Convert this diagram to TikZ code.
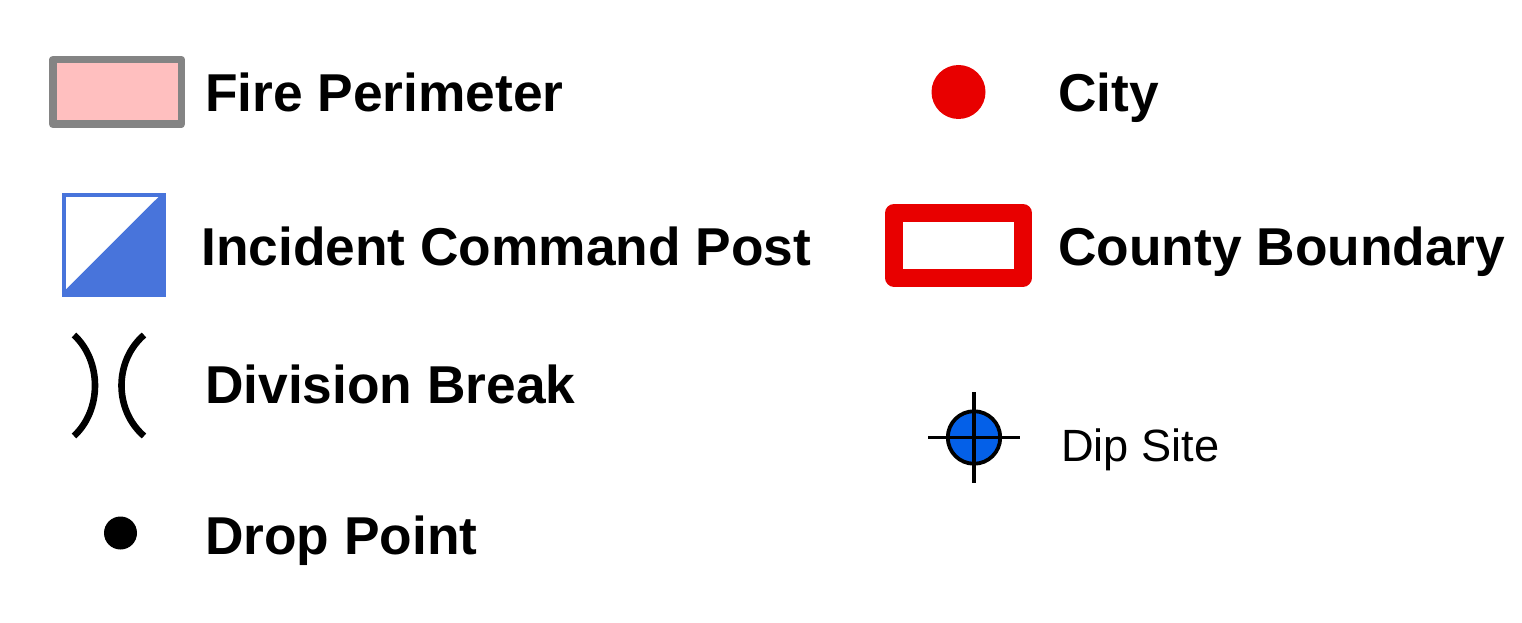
\documentclass[tikz,border=0pt]{standalone}
\usepackage{fontspec}
\setmainfont{Liberation Sans}
\definecolor{firefill}{HTML}{FFBFBF}
\definecolor{firegray}{HTML}{848484}
\definecolor{icp}{HTML}{4874DB}
\definecolor{cityred}{HTML}{E80000}
\definecolor{dip}{HTML}{0460E8}
\tikzset{x=1pt,y=-1pt,
 lab/.style={anchor=base west,inner sep=0pt,font=\fontsize{53.3}{55}\selectfont\bfseries},
 labthin/.style={anchor=base west,inner sep=0pt,font=\fontsize{45.2}{47}\selectfont},
 sym/.style={inner sep=0pt,outer sep=0pt,minimum size=0pt}}
\begin{document}
\begin{tikzpicture}
\useasboundingbox (0,0) rectangle (1522,623);
% Fire perimeter
\node[sym,draw=firegray,fill=firefill,line width=7.5pt,line join=round,minimum width=128.5pt,minimum height=64.5pt] (fp) at (117,92) {};
\node[lab] (fpl) at (205,111.5) {Fire Perimeter};
% ICP
\node[sym,draw=icp,line width=3.8pt,minimum width=100pt,minimum height=100pt] (icpbox) at (113.9,245.2) {};
\fill[icp] (158.3,197.2) -- (66,289.4) -- (66,295.2) -- (163.9,295.2) -- (163.9,197.2) -- cycle;
\node[lab] (icpl) at (201,265.5) {Incident Command Post};
% Division break
\coordinate (d1a) at (74,335); \coordinate (d1b) at (74,436);
\coordinate (d2a) at (144,335); \coordinate (d2b) at (144,436);
\draw[line width=6.6pt] (d1a) .. controls (102,361) and (102,410) .. (d1b);
\draw[line width=6.6pt] (d2a) .. controls (114,361) and (114,410) .. (d2b);
\node[lab] (dbl) at (205,403) {Division Break};
% Drop point
\node[sym,circle,fill=black,minimum size=33pt] (dp) at (120.5,533) {};
\node[lab] (dpl) at (205,554) {Drop Point};
% City
\node[sym,circle,fill=cityred,minimum size=54pt] (city) at (958.5,92) {};
\node[lab] (cl) at (1058,111.5) {City};
% County
\node[sym,draw=cityred,line width=18pt,line join=round,minimum width=129pt,minimum height=64.5pt] (cb) at (958.5,245.3) {};
\node[lab] (cbl) at (1058,265.5) {County Boundary};
% Dip
\node[sym,circle,draw=black,fill=dip,line width=3.8pt,minimum size=52.5pt] (ds) at (974,437.5) {};
\coordinate (dl) at (928,437.5); \coordinate (dr) at (1020,437.5);
\coordinate (dt) at (974,392); \coordinate (db) at (974,483);
\draw[line width=3.8pt] (dl) -- (dr);
\draw[line width=3.8pt] (dt) -- (db);
\node[labthin] (dsl) at (1061,461) {Dip Site};
\end{tikzpicture}
\end{document}
